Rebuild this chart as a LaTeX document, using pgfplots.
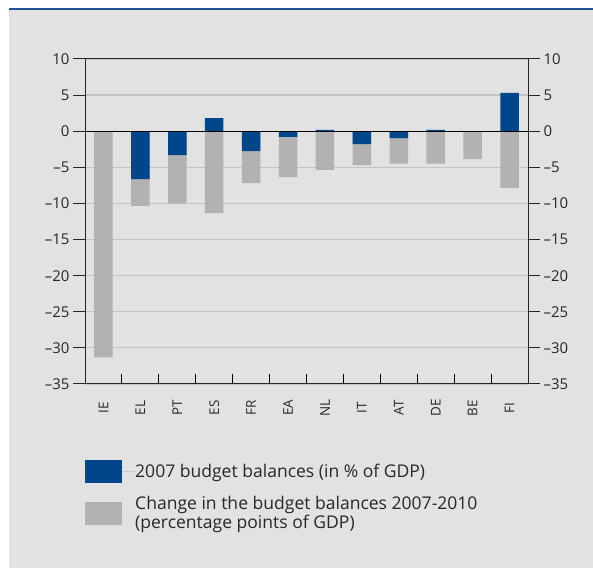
\documentclass[border=0pt]{standalone}
\usepackage{fontspec}
\setmainfont{Open Sans}
\usepackage{pgfplots}
\usepackage{pgfplotstable}
\pgfplotsset{compat=1.18}
\definecolor{panel}{RGB}{226,226,226}
\definecolor{barblue}{RGB}{0,70,139}
\definecolor{bargrey}{RGB}{178,178,178}
\definecolor{gridgrey}{RGB}{195,195,195}
\definecolor{topblue}{RGB}{30,85,150}
\definecolor{txt}{RGB}{40,40,40}

\pgfplotstableread{
x bal bottom
0 0 -31.3
1 -6.65 -10.35
2 -3.3 -10.0
3 1.8 -11.35
4 -2.75 -7.2
5 -0.8 -6.35
6 0.2 -5.35
7 -1.8 -4.7
8 -0.95 -4.5
9 0.2 -4.5
10 0 -3.85
11 5.3 -7.85
}\datatable

\begin{document}
\begin{tikzpicture}[x=1bp,y=1bp]
\useasboundingbox (0,0) rectangle (593,568);
\fill[panel] (9,0) rectangle (593,559);
\draw[topblue, line width=2bp] (9,558.5) -- (593,558.5);

\begin{axis}[
  at={(85bp,184bp)}, anchor=south west,
  width=443bp, height=325bp, scale only axis,
  xmin=-0.5, xmax=11.5, ymin=-35, ymax=10,
  axis line style={draw=black!85, line width=1bp},
  xtick={0,...,11},
  xticklabels={IE,EL,PT,ES,FR,EA,NL,IT,AT,DE,BE,FI},
  xtick pos=left,
  major x tick style={draw=none},
  minor xtick={0.5,1.5,...,10.5},
  minor tick length=10bp,
  minor x tick style={draw=black, line width=1bp, yshift=10bp},
  ytick={-35,-30,...,10},
  yticklabels={–35,–30,–25,–20,–15,–10,–5,0,5,10},
  ytick pos=left,
  tick align=outside,
  major tick length=12bp,
  ymajorgrids,
  grid style={gridgrey, line width=1.2bp},
  major y tick style={draw=black!85, line width=1bp},
  yticklabel style={font=\fontsize{15}{15}\selectfont, text=txt},
  xticklabel style={yshift=-12bp, rotate=90, anchor=center, font=\fontsize{13.5}{13.5}\selectfont, text=txt},
  reverse legend,
  legend style={at={(rel axis cs:0,-0.232)}, anchor=north west, draw=none, fill=none,
    inner sep=0pt, font=\fontsize{17.6}{19}\selectfont, text=txt,
    cells={anchor=west, align=left}, row sep=14bp,
    nodes={inner sep=0pt}},
  legend cell align=left,
]
\addplot[ybar, bar width=18.5bp, bar shift=0pt, fill=bargrey, draw=none,
  legend image code/.code={\fill[bargrey] (0bp,-11.5bp) rectangle (37bp,11.5bp);\path (0bp,0bp) -- (50bp,0bp);}]
  table[x=x, y=bottom]{\datatable};
\addlegendentry{Change in the budget balances 2007-2010\\(percentage points of GDP)}
\addplot[ybar, bar width=18.5bp, bar shift=0pt, fill=barblue, draw=none,
  legend image code/.code={\fill[barblue] (0bp,-11.5bp) rectangle (37bp,11.5bp);\path (0bp,0bp) -- (50bp,0bp);}]
  table[x=x, y=bal]{\datatable};
\addlegendentry{2007 budget balances (in \% of GDP)}
\draw[black, line width=1bp] (axis cs:-0.5,0) -- (axis cs:11.5,0);
\end{axis}

\begin{axis}[
  at={(85bp,184bp)}, anchor=south west,
  width=443bp, height=325bp, scale only axis,
  xmin=-0.5, xmax=11.5, ymin=-35, ymax=10,
  hide x axis,
  axis y line*=right,
  y axis line style={draw=none},
  ytick={-35,-30,...,10},
  yticklabels={–35,–30,–25,–20,–15,–10,–5,0,5,10},
  ytick pos=right, yticklabel pos=right,
  tick align=outside,
  major tick length=12bp,
  major y tick style={draw=black!85, line width=1bp},
  yticklabel style={font=\fontsize{15}{15}\selectfont, text=txt},
]
\end{axis}
\end{tikzpicture}
\end{document}
